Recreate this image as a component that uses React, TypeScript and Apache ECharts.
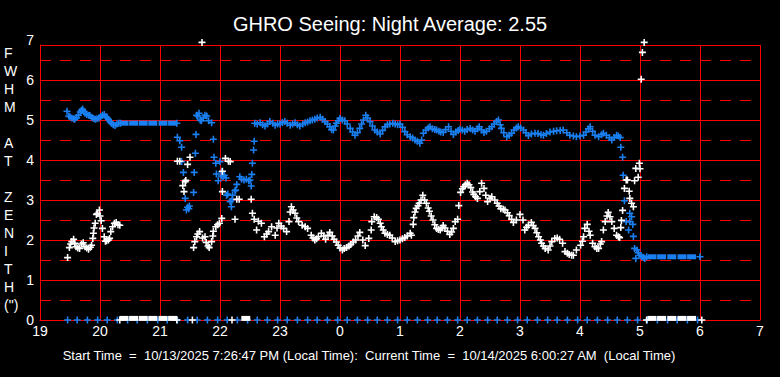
import React, { useEffect, useRef } from "react";
import * as echarts from "echarts";

// ---- data (hours; values after midnight continue past 24) ----
const xTickLabels = ["19", "20", "21", "22", "23", "0", "1", "2", "3", "4", "5", "6", "7"];
const yTickLabels = ["0", "1", "2", "3", "4", "5", "6", "7"];

const titleText = "GHRO Seeing: Night Average: 2.55";
const yAxisTitle = ["F", "W", "H", "M", "", "A", "T", "", "Z", "E", "N", "I", "T", "H", "(\")"];
const footerText =
  "Start Time  =  10/13/2025 7:26:47 PM (Local Time):  Current Time  =  10/14/2025 6:00:27 AM  (Local Time)";

// blue series (crosses)
const blueSeeing: number[][] = [
  [19.45, 5.22], [19.48, 5.1], [19.5, 5.08], [19.53, 5.05], [19.56, 5.03], [19.58, 5.02], [19.61, 5.06],
  [19.64, 5.12], [19.67, 5.2], [19.69, 5.24], [19.71, 5.27], [19.73, 5.22], [19.75, 5.17], [19.78, 5.14],
  [19.81, 5.12], [19.83, 5.11], [19.86, 5.07], [19.89, 5.04], [19.92, 5.02], [19.95, 5.03], [19.98, 5.05],
  [20.01, 5.08], [20.04, 5.12], [20.07, 5.14], [20.1, 5.08], [20.12, 5.05], [20.14, 5.02], [20.17, 4.96],
  [20.19, 4.92], [20.22, 4.88], [20.25, 4.86], [20.28, 4.9], [20.31, 4.92], [20.34, 4.92], [21.28, 4.92],
  [21.29, 4.57], [21.33, 4.48], [21.36, 4.32], [21.36, 3.96], [21.39, 3.69], [21.42, 3.04], [21.44, 2.75],
  [21.46, 2.82], [21.48, 2.78], [21.49, 2.85], [21.56, 3.19], [21.57, 3.69], [21.59, 4.17], [21.6, 4.64],
  [21.61, 5.12], [21.63, 5.1], [21.65, 5.17], [21.67, 5.0], [21.69, 4.98], [21.72, 5.05], [21.75, 5.12],
  [21.78, 5.1], [21.81, 4.98], [21.86, 4.93], [21.89, 4.52], [21.9, 4.07], [21.93, 3.92], [21.94, 3.65],
  [21.97, 3.48], [22.0, 3.96], [22.02, 3.6], [22.03, 3.7], [22.05, 3.58], [22.07, 3.62], [22.1, 3.55],
  [22.11, 3.12], [22.13, 3.15], [22.17, 2.96], [22.19, 2.83], [22.2, 3.0], [22.21, 3.12], [22.25, 3.23],
  [22.26, 3.25], [22.28, 3.39], [22.33, 3.58], [22.36, 3.52], [22.4, 3.5], [22.44, 3.52], [22.48, 3.48],
  [22.5, 3.5], [22.52, 3.35], [22.53, 3.64], [22.54, 3.92], [22.56, 4.25], [22.57, 4.47],
  [22.58, 4.92], [22.62, 4.9], [22.67, 4.93], [22.71, 4.88], [22.75, 4.85], [22.79, 4.9], [22.83, 4.96],
  [22.88, 4.92], [22.92, 4.87], [22.96, 4.9], [23.0, 4.9], [23.04, 4.94], [23.08, 4.96], [23.12, 4.92],
  [23.17, 4.87], [23.21, 4.9], [23.25, 4.93], [23.29, 4.88], [23.33, 4.85], [23.38, 4.9], [23.42, 4.93],
  [23.46, 4.95], [23.5, 4.98], [23.54, 5.0], [23.58, 5.02], [23.62, 5.05], [23.67, 5.07], [23.71, 5.02],
  [23.75, 4.96], [23.79, 4.9], [23.83, 4.83], [23.86, 4.76], [23.89, 4.75], [23.92, 4.85], [23.94, 4.92],
  [23.97, 4.98], [24.0, 5.04], [24.04, 5.0], [24.08, 4.98], [24.12, 4.9], [24.17, 4.79], [24.21, 4.7],
  [24.25, 4.62], [24.29, 4.68], [24.33, 4.79], [24.36, 4.9], [24.39, 5.0], [24.43, 5.12], [24.46, 5.05],
  [24.5, 4.96], [24.54, 4.85], [24.58, 4.75], [24.62, 4.7], [24.67, 4.65], [24.71, 4.74], [24.75, 4.83],
  [24.79, 4.88], [24.83, 4.9], [24.88, 4.92], [24.92, 4.9], [24.96, 4.88], [25.0, 4.9], [25.04, 4.82],
  [25.08, 4.71], [25.12, 4.63], [25.17, 4.58], [25.21, 4.55], [25.25, 4.5], [25.29, 4.47], [25.33, 4.42],
  [25.36, 4.5], [25.39, 4.67], [25.43, 4.75], [25.47, 4.8], [25.5, 4.83], [25.54, 4.78], [25.58, 4.76],
  [25.61, 4.75], [25.65, 4.72], [25.68, 4.7], [25.72, 4.69], [25.76, 4.76], [25.81, 4.83], [25.85, 4.72],
  [25.89, 4.64], [25.93, 4.7], [25.97, 4.74], [26.0, 4.77], [26.04, 4.75], [26.08, 4.72], [26.12, 4.76],
  [26.17, 4.79], [26.21, 4.75], [26.25, 4.72], [26.29, 4.78], [26.32, 4.83], [26.36, 4.75], [26.4, 4.69],
  [26.44, 4.72], [26.49, 4.78], [26.53, 4.83], [26.57, 4.9], [26.61, 4.96], [26.64, 5.0], [26.67, 4.88],
  [26.69, 4.79], [26.73, 4.68], [26.78, 4.58], [26.82, 4.62], [26.86, 4.67], [26.9, 4.75], [26.94, 4.8],
  [26.97, 4.83], [27.01, 4.8], [27.06, 4.75], [27.1, 4.68], [27.14, 4.61], [27.19, 4.65], [27.25, 4.67],
  [27.3, 4.66], [27.35, 4.63], [27.39, 4.62], [27.44, 4.66], [27.5, 4.7], [27.56, 4.72], [27.61, 4.73],
  [27.67, 4.74], [27.72, 4.75], [27.78, 4.68], [27.83, 4.62], [27.89, 4.6], [27.94, 4.58], [28.0, 4.6],
  [28.06, 4.62], [28.1, 4.7], [28.14, 4.78], [28.17, 4.83], [28.21, 4.72], [28.25, 4.62], [28.31, 4.58],
  [28.36, 4.63], [28.39, 4.67], [28.44, 4.62], [28.49, 4.56], [28.53, 4.5], [28.57, 4.56], [28.61, 4.62],
  [28.64, 4.6], [28.67, 4.56], [28.68, 4.32], [28.71, 4.07], [28.72, 3.62], [28.74, 2.98], [28.77, 2.46],
  [28.81, 2.25], [28.83, 2.67], [28.83, 2.46], [28.86, 2.58], [28.88, 2.39], [28.89, 2.09], [28.91, 1.79],
  [28.93, 1.54], [28.95, 1.75], [28.97, 1.68], [29.0, 1.62], [29.03, 1.58], [29.06, 1.56], [29.08, 1.54],
  [29.11, 1.58], [30.0, 1.58],
];
// blue flat blocks (dense constant readings)
const blueFlat: number[][] = [
  [20.4, 4.92], [20.56, 4.92], [20.72, 4.92], [20.88, 4.92], [21.05, 4.92], [21.21, 4.92],
  [29.2, 1.58], [29.36, 1.58], [29.53, 1.58], [29.7, 1.58], [29.86, 1.58],
];
// blue zero readings
const blueZeroTimes: number[] = [
  19.46, 19.62, 19.79, 19.96, 20.12, 20.29, 20.46, 20.62, 20.79, 20.96, 21.12, 21.29, 21.46, 21.62, 21.79,
  21.96, 22.12, 22.29, 22.46, 22.62, 22.79, 22.96, 23.12, 23.29, 23.46, 23.62, 23.79, 23.96, 24.12, 24.29,
  24.46, 24.62, 24.79, 24.96, 25.12, 25.29, 25.46, 25.62, 25.79, 25.96, 26.12, 26.29, 26.46, 26.62, 26.79,
  26.96, 27.12, 27.29, 27.46, 27.62, 27.79, 27.96, 28.12, 28.29, 28.46, 28.62, 28.79, 28.96, 29.12, 29.29,
  29.46, 29.62, 29.79, 29.96,
];

// white series (crosses)
const whiteSeeing: number[][] = [
  [19.46, 1.56], [19.49, 1.81], [19.51, 1.9], [19.53, 1.96], [19.56, 2.02], [19.58, 1.92], [19.6, 1.83],
  [19.63, 1.8], [19.66, 1.79], [19.69, 1.9], [19.72, 1.93], [19.75, 1.83], [19.78, 1.8], [19.81, 1.77],
  [19.84, 1.82], [19.86, 1.87], [19.88, 2.04], [19.89, 2.17], [19.9, 2.3], [19.92, 2.42], [19.94, 2.64],
  [19.96, 2.66], [19.99, 2.75], [20.0, 2.6], [20.02, 2.48], [20.04, 2.29], [20.07, 2.08], [20.09, 1.97],
  [20.11, 1.98], [20.14, 2.0], [20.16, 2.04], [20.18, 2.21], [20.21, 2.33], [20.24, 2.42], [20.27, 2.44],
  [20.3, 2.38], [20.33, 2.37],
  [21.29, 3.97], [21.33, 3.97], [21.38, 3.36], [21.4, 3.21], [21.42, 3.46], [21.43, 3.49], [21.46, 3.89],
  [21.5, 4.07], [21.56, 1.81], [21.58, 1.96], [21.61, 2.08], [21.63, 2.15], [21.66, 2.21], [21.7, 6.94],
  [21.71, 2.05], [21.75, 2.08], [21.77, 1.94], [21.8, 1.85], [21.82, 1.81], [21.86, 1.96], [21.88, 2.1],
  [21.89, 2.22], [21.93, 2.33], [21.96, 2.38], [21.99, 2.42], [22.03, 2.54], [22.04, 3.21], [22.04, 3.72],
  [22.09, 4.04], [22.14, 3.97], [22.17, 3.96], [22.25, 2.52], [22.28, 3.02], [22.32, 3.02], [22.52, 3.02],
  [22.54, 2.67], [22.57, 2.52], [22.61, 2.25], [22.64, 2.47], [22.69, 2.42], [22.74, 2.08], [22.78, 2.15],
  [22.81, 2.21], [22.86, 2.33], [22.92, 2.12], [22.95, 2.3], [22.98, 2.42], [23.02, 2.35], [23.06, 2.29],
  [23.11, 2.21], [23.15, 2.46], [23.17, 2.7], [23.19, 2.83], [23.22, 2.75], [23.25, 2.67], [23.28, 2.55],
  [23.31, 2.46], [23.37, 2.37], [23.42, 2.33], [23.46, 2.29], [23.52, 2.12], [23.55, 2.05], [23.58, 2.0],
  [23.61, 2.03], [23.64, 2.08], [23.69, 2.17], [23.73, 2.1], [23.76, 2.02], [23.8, 2.12], [23.83, 2.19],
  [23.87, 2.1], [23.9, 2.02], [23.94, 1.95], [23.97, 1.87], [24.0, 1.8], [24.04, 1.75], [24.07, 1.79],
  [24.11, 1.81], [24.15, 1.85], [24.18, 1.89], [24.22, 1.95], [24.26, 2.0], [24.3, 2.1], [24.33, 2.19],
  [24.38, 2.0], [24.42, 1.86], [24.48, 2.04], [24.52, 2.25], [24.53, 2.46], [24.57, 2.58], [24.61, 2.56],
  [24.64, 2.52], [24.67, 2.42], [24.69, 2.33], [24.72, 2.25], [24.75, 2.17], [24.79, 2.14], [24.83, 2.12],
  [24.87, 2.05], [24.92, 1.96], [24.96, 1.98], [25.0, 2.0], [25.04, 2.03], [25.08, 2.06], [25.12, 2.1],
  [25.17, 2.17], [25.19, 2.12], [25.22, 2.39], [25.23, 2.56], [25.25, 2.7], [25.27, 2.79], [25.3, 2.86],
  [25.32, 2.92], [25.35, 3.0], [25.38, 3.12], [25.41, 3.0], [25.44, 2.92], [25.47, 2.8], [25.49, 2.72],
  [25.52, 2.6], [25.55, 2.5], [25.58, 2.38], [25.61, 2.29], [25.64, 2.26], [25.67, 2.25], [25.7, 2.3],
  [25.72, 2.36], [25.75, 2.3], [25.79, 2.22], [25.83, 2.14], [25.86, 2.2], [25.89, 2.29], [25.92, 2.46],
  [25.96, 2.52], [25.98, 2.86], [26.01, 3.19], [26.04, 3.28], [26.06, 3.33], [26.09, 3.38], [26.12, 3.42],
  [26.15, 3.38], [26.18, 3.31], [26.21, 3.2], [26.23, 3.14], [26.26, 3.08], [26.29, 3.04], [26.33, 3.21],
  [26.36, 3.42], [26.4, 3.29], [26.43, 3.12], [26.46, 2.96], [26.5, 3.04], [26.53, 3.08], [26.58, 3.0],
  [26.62, 2.92], [26.65, 2.85], [26.68, 2.78], [26.72, 2.77], [26.75, 2.75], [26.79, 2.68], [26.82, 2.61],
  [26.86, 2.52], [26.89, 2.44], [26.94, 2.5], [27.0, 2.64], [27.05, 2.5], [27.08, 2.25], [27.11, 2.32],
  [27.14, 2.37], [27.19, 2.44], [27.22, 2.36], [27.25, 2.29], [27.28, 2.18], [27.31, 2.08], [27.34, 2.0],
  [27.36, 1.92], [27.39, 1.85], [27.42, 1.79], [27.47, 1.75], [27.5, 1.85], [27.53, 1.96], [27.58, 2.04],
  [27.62, 2.05], [27.66, 2.02], [27.71, 1.92], [27.75, 1.71], [27.79, 1.67], [27.82, 1.64], [27.86, 1.62],
  [27.89, 1.62], [27.94, 1.75], [28.01, 1.87], [28.04, 1.97], [28.06, 2.08], [28.08, 2.29], [28.12, 2.39],
  [28.15, 2.22], [28.17, 2.12], [28.21, 1.92], [28.25, 1.83], [28.28, 1.79], [28.31, 1.79], [28.34, 1.9],
  [28.36, 1.96], [28.39, 2.25], [28.42, 2.46], [28.45, 2.6], [28.47, 2.69], [28.5, 2.58], [28.53, 2.46],
  [28.57, 2.29], [28.61, 2.12], [28.64, 2.08], [28.66, 2.06], [28.68, 2.31], [28.69, 2.49], [28.71, 2.74],
  [28.74, 3.29], [28.77, 3.5], [28.79, 3.5], [28.82, 3.22], [28.83, 3.04], [28.86, 2.92], [28.89, 2.83],
  [28.91, 3.48], [28.93, 3.79], [28.97, 3.57], [28.99, 3.92], [29.0, 3.78], [29.02, 6.02], [29.04, 6.69],
  [29.07, 6.94],
  [20.33, 0], [21.28, 0], [21.54, 0], [22.2, 0], [29.11, 0], [30.03, 0],
];
// white flat blocks at zero
const whiteFlat: number[][] = [
  [20.4, 0.04], [20.56, 0.04], [20.72, 0.04], [20.88, 0.04], [21.05, 0.04], [21.21, 0.04], [22.43, 0.04],
  [29.2, 0.04], [29.36, 0.04], [29.53, 0.04], [29.7, 0.04], [29.86, 0.04],
];

const BLUE = "#1A80F2";
const WHITE = "#FFFFFF";
const RED = "#FF0000";
const FONT = "Arial, 'Liberation Sans', sans-serif";
const CROSS = "path://M3.1,0H4.9V3.1H8V4.9H4.9V8H3.1V4.9H0V3.1H3.1Z";

export default function App() {
  const ref = useRef<HTMLDivElement>(null);
  useEffect(() => {
    if (!ref.current) return;
    const chart = echarts.init(ref.current, null, { renderer: "svg" });
    const yTop = 6.875;
    const scatter = (data: number[][], color: string, symbol: string, size: number | number[]) => ({
      type: "scatter",
      yAxisIndex: 1,
      clip: false,
      symbol,
      symbolSize: size,
      itemStyle: { color, opacity: 1 },
      emphasis: { disabled: true },
      data,
    });
    chart.setOption({
      animation: false,
      backgroundColor: "#000",
      title: {
        text: titleText,
        left: "center",
        top: 9,
        textStyle: { color: WHITE, fontSize: 20, fontWeight: "normal", fontFamily: FONT },
      },
      grid: { left: 40, right: 20, top: 45, bottom: 57, containLabel: false },
      xAxis: {
        type: "value",
        min: 19,
        max: 31,
        interval: 1,
        axisLine: { show: true, lineStyle: { color: RED, width: 1 } },
        axisTick: { show: false },
        splitLine: { show: true, lineStyle: { color: RED, width: 1 } },
        axisLabel: {
          color: WHITE,
          fontSize: 14,
          fontFamily: FONT,
          margin: 4,
          formatter: (v: number) => xTickLabels[Math.round(v - 19)] ?? "",
        },
      },
      yAxis: [
        {
          type: "value",
          position: "left",
          min: 0,
          max: yTop,
          interval: 0.5,
          axisLine: { show: false },
          axisTick: { show: false },
          axisLabel: { show: false },
          splitLine: { show: true, lineStyle: { color: RED, width: 1, type: [11, 9] } },
        },
        {
          type: "value",
          position: "left",
          offset: 0,
          min: 0,
          max: yTop,
          interval: 1,
          axisLine: { show: true, lineStyle: { color: RED, width: 1 } },
          axisTick: { show: false },
          splitLine: { show: true, lineStyle: { color: RED, width: 1 } },
          axisLabel: {
            color: WHITE,
            fontSize: 14,
            fontFamily: FONT,
            margin: 6,
            formatter: (v: number) =>
              v > 6.5 ? "{t|" + yTickLabels[7] + "}" : yTickLabels[Math.round(v)] ?? "",
            rich: {
              t: { color: WHITE, fontSize: 14, fontFamily: FONT, padding: [0, 0, 10, 0] },
            },
          },
        },
      ],
      graphic: [
        {
          type: "text",
          left: 4,
          top: 44,
          style: {
            text: yAxisTitle.join("\n"),
            fill: WHITE,
            fontSize: 14,
            fontFamily: FONT,
            lineHeight: 18,
            align: "center",
            width: 16,
          },
        },
        {
          type: "text",
          x: 369,
          y: 355,
          style: {
            text: footerText,
            fill: WHITE,
            fontSize: 13,
            fontFamily: FONT,
            align: "center",
            verticalAlign: "middle",
          },
        },
      ],
      series: [
        scatter(blueZeroTimes.map((t) => [t, 0]), BLUE, CROSS, 7),
        scatter(blueSeeing, BLUE, CROSS, 7),
        scatter(blueFlat, BLUE, "rect", [9, 5]),
        scatter(whiteSeeing, WHITE, CROSS, 7),
        scatter(whiteFlat, WHITE, "rect", [9, 5]),
      ],
    });
    return () => chart.dispose();
  }, []);
  return (
    <div
      ref={ref}
      style={{ position: "fixed", left: 0, top: 0, width: 780, height: 377, background: "#000" }}
    />
  );
}
